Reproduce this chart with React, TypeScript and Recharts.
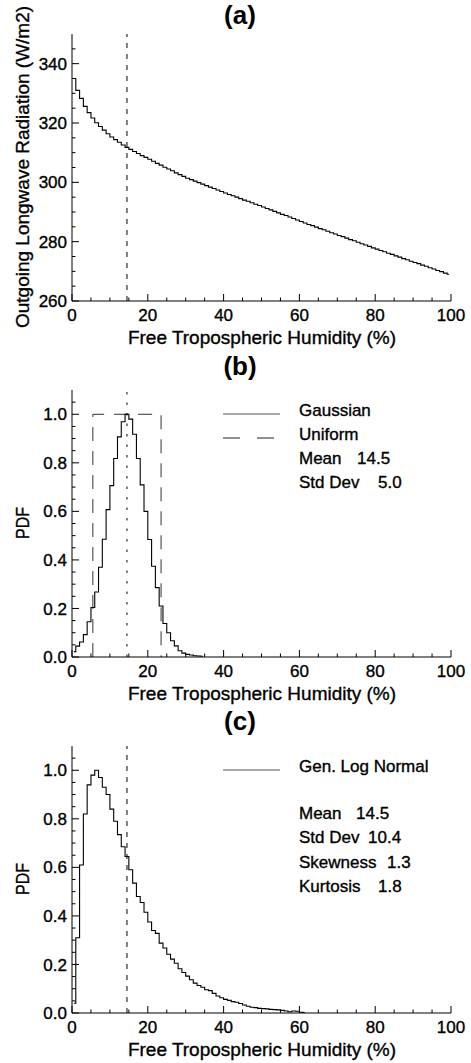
import React from 'react';
import { LineChart, Line, XAxis, YAxis, ReferenceLine } from 'recharts';

const FONT = '"Liberation Sans", Arial, Helvetica, sans-serif';

// humidity axis, %
const X_TICKS = [0, 5, 10, 15, 20, 25, 30, 35, 40, 45, 50, 55, 60, 65, 70, 75, 80, 85, 90, 95, 100];
const X_MAJOR = [0, 20, 40, 60, 80, 100];
const MEAN_FTH = 14.5;

// (a) OLR for each 1% humidity bin, W/m2
const OLR = [
  335.0, 331.0, 328.3, 325.6, 323.5, 321.7, 320.1, 318.8, 317.6, 316.4,
  315.3, 314.4, 313.5, 312.6, 311.8, 311.1, 310.4, 309.7, 309.0, 308.4,
  307.8, 307.1, 306.4, 305.8, 305.1, 304.5, 303.9, 303.2, 302.6, 302.0,
  301.4, 300.9, 300.4, 299.9, 299.4, 298.9, 298.4, 297.9, 297.4, 296.9,
  296.4, 295.9, 295.5, 295.0, 294.5, 294.0, 293.6, 293.1, 292.6, 292.2,
  291.7, 291.2, 290.7, 290.2, 289.7, 289.2, 288.8, 288.3, 287.8, 287.3,
  286.8, 286.3, 285.8, 285.4, 284.9, 284.4, 284.0, 283.5, 283.0, 282.6,
  282.1, 281.7, 281.2, 280.7, 280.3, 279.8, 279.3, 278.9, 278.4, 277.9,
  277.5, 277.0, 276.6, 276.1, 275.7, 275.2, 274.8, 274.3, 273.9, 273.4,
  273.0, 272.6, 272.1, 271.7, 271.2, 270.8, 270.3, 269.9, 269.4, 269.0,
];
const OLR_TICKS = [260, 265, 270, 275, 280, 285, 290, 295, 300, 305, 310, 315, 320, 325, 330, 335, 340, 345];
const OLR_MAJOR = [260, 280, 300, 320, 340];

// (b) gaussian pdf histogram
const GAUSS = [
  0.022, 0.045, 0.062, 0.092, 0.145, 0.204, 0.268, 0.37, 0.485, 0.607,
  0.706, 0.818, 0.907, 0.969, 1.0, 0.98, 0.918, 0.818, 0.709, 0.6,
  0.484, 0.374, 0.286, 0.21, 0.138, 0.1, 0.067, 0.046, 0.026, 0.016,
  0.011, 0.008, 0.005, 0.004, 0.003,
];
const UNIFORM_X = [5.5, 5.5, 23.5, 23.5];
const UNIFORM_Y = [0, 1, 1, 0];

// (c) generalised log normal histogram
const LOGN = [
  0.04, 0.31, 0.61, 0.82, 0.94, 0.98, 1.0, 0.97, 0.93, 0.9,
  0.84, 0.79, 0.735, 0.685, 0.645, 0.59, 0.535, 0.48, 0.455, 0.415,
  0.375, 0.34, 0.328, 0.288, 0.268, 0.242, 0.222, 0.205, 0.182, 0.167,
  0.152, 0.137, 0.123, 0.113, 0.106, 0.096, 0.092, 0.081, 0.07, 0.063,
  0.056, 0.052, 0.047, 0.044, 0.039, 0.033, 0.028, 0.024, 0.022, 0.019,
  0.018, 0.017, 0.015, 0.014, 0.013, 0.011, 0.008, 0.005, 0.008, 0.007,
  0.003, 0.001,
];

const PDF_TICKS = [0, 0.05, 0.1, 0.15, 0.2, 0.25, 0.3, 0.35, 0.4, 0.45, 0.5, 0.55, 0.6, 0.65, 0.7, 0.75, 0.8, 0.85, 0.9, 0.95, 1.0, 1.05];
const PDF_MAJOR = [0, 0.2, 0.4, 0.6, 0.8, 1.0];

// histogram bins are 1% wide, points sit at bin centres
const bins = (vals: number[]) => vals.map((v, i) => ({ x: i + 0.5, v }));
const olrData = bins(OLR);
const gaussData = bins(GAUSS);
const lognData = bins(LOGN);
const uniformData = UNIFORM_X.map((x, i) => ({ x, v: UNIFORM_Y[i] }));

const W = 471;
const H = 356;
const MARGIN = { top: 34, right: 20, bottom: 0, left: 0 };
const MAJOR_LEN = 7;
const MINOR_LEN = 3.5;
const TICK_FONT = 17;
// thickens the text a little, the original glyphs are heavier than plain Arial
const INK = { stroke: '#000', strokeWidth: 0.35 };

type Side = 'bottom' | 'top' | 'left' | 'right';

// inward IDL style ticks, labels only on the bottom/left majors
const makeTick = (side: Side, majors: number[], fmt?: (v: number) => string) => (p: any) => {
  const v = p.payload.value;
  const x = p.x;
  const y = p.y;
  const major = majors.includes(v);
  const len = major ? MAJOR_LEN : MINOR_LEN;
  let line;
  if (side === 'bottom') line = <line x1={x} y1={y} x2={x} y2={y - len} stroke="#000" />;
  else if (side === 'top') line = <line x1={x} y1={y} x2={x} y2={y + len} stroke="#000" />;
  else if (side === 'left') line = <line x1={x} y1={y} x2={x + len} y2={y} stroke="#000" />;
  else line = <line x1={x} y1={y} x2={x - len} y2={y} stroke="#000" />;
  let label = null;
  if (fmt && major) {
    if (side === 'bottom') {
      label = (
        <text x={x} y={y + 19.5} textAnchor="middle" fontSize={TICK_FONT} fontFamily={FONT} fill="#000" {...INK}>
          {fmt(v)}
        </text>
      );
    } else {
      label = (
        <text x={x - 5} y={y} dy="0.36em" textAnchor="end" fontSize={TICK_FONT} fontFamily={FONT} fill="#000" {...INK}>
          {fmt(v)}
        </text>
      );
    }
  }
  return (
    <g key={`${side}-${v}`}>
      {line}
      {label}
    </g>
  );
};

const axisLine = { stroke: '#000', strokeWidth: 1 };

type PanelProps = {
  title: string;
  titleY: number;
  yLabel: string;
  yLabelLen?: number;
  yDomain: [number, number];
  yTicks: number[];
  yMajors: number[];
  yFmt: (v: number) => string;
  meanDash: string;
  notes?: React.ReactNode;
  children: React.ReactNode;
};

function Panel(props: PanelProps) {
  const { title, titleY, yLabel, yLabelLen, yDomain, yTicks, yMajors, yFmt, meanDash, notes, children } = props;
  return (
    <div style={{ position: 'relative', width: W, height: H }}>
      <LineChart width={W} height={H} margin={MARGIN} style={{ fontFamily: FONT }}>
        <XAxis
          type="number"
          dataKey="x"
          domain={[0, 100]}
          allowDataOverflow
          ticks={X_TICKS}
          interval={0}
          height={55}
          tickSize={0}
          tickMargin={0}
          tickLine={false}
          axisLine={axisLine}
          tick={makeTick('bottom', X_MAJOR, (v) => String(v))}
        />
        <XAxis
          xAxisId="t"
          orientation="top"
          type="number"
          dataKey="x"
          domain={[0, 100]}
          allowDataOverflow
          ticks={X_TICKS}
          interval={0}
          height={0}
          tickSize={0}
          tickMargin={0}
          tickLine={false}
          axisLine={axisLine}
          tick={makeTick('top', X_MAJOR)}
        />
        <YAxis
          type="number"
          domain={yDomain}
          allowDataOverflow
          ticks={yTicks}
          interval={0}
          width={72}
          tickSize={0}
          tickMargin={0}
          tickLine={false}
          axisLine={axisLine}
          tick={makeTick('left', yMajors, yFmt)}
        />
        <YAxis
          yAxisId="r"
          orientation="right"
          type="number"
          domain={yDomain}
          allowDataOverflow
          ticks={yTicks}
          interval={0}
          width={0}
          tickSize={0}
          tickMargin={0}
          tickLine={false}
          axisLine={axisLine}
          tick={makeTick('right', yMajors)}
        />
        <ReferenceLine x={MEAN_FTH} stroke="#000" strokeWidth={1} strokeDasharray={meanDash} />
        {children}
      </LineChart>
      <svg
        width={W}
        height={H}
        style={{ position: 'absolute', left: 0, top: 0, pointerEvents: 'none', fontFamily: FONT, overflow: 'visible' }}
      >
        <text x={240} y={titleY} textAnchor="middle" fontSize={26} fontWeight="bold" fill="#000">
          {title}
        </text>
        <text x={262} y={344} textAnchor="middle" fontSize={19} fill="#000" {...INK}>
          Free Tropospheric Humidity (%)
        </text>
        <text
          transform="translate(29, 167) rotate(-90)"
          textAnchor="middle"
          fontSize={19}
          fill="#000"
          {...INK}
          textLength={yLabelLen}
          lengthAdjust={yLabelLen ? 'spacingAndGlyphs' : undefined}
        >
          {yLabel}
        </text>
        {notes}
      </svg>
    </div>
  );
}

const NOTE_FONT = 17;
const Note = ({ x, y, children }: { x: number; y: number; children: React.ReactNode }) => (
  <text x={x} y={y} fontSize={NOTE_FONT} fill="#000" {...INK}>
    {children}
  </text>
);

const pdfFmt = (v: number) => v.toFixed(1);

export default function App() {
  return (
    <div style={{ position: 'absolute', left: 0, top: 0, width: 471, height: 1063, background: '#fff', overflow: 'hidden' }}>
      <Panel
        title="(a)"
        titleY={24}
        yLabel="Outgoing Longwave Radiation (W/m2)"
        yDomain={[260, 350]}
        yTicks={OLR_TICKS}
        yMajors={OLR_MAJOR}
        yFmt={(v) => String(v)}
        meanDash="5 6"
      >
        <Line data={olrData} dataKey="v" type="step" stroke="#000" strokeWidth={1.1} dot={false} isAnimationActive={false} />
      </Panel>
      <Panel
        title="(b)"
        titleY={19}
        yLabel="PDF"
        yLabelLen={32}
        yDomain={[0, 1.1]}
        yTicks={PDF_TICKS}
        yMajors={PDF_MAJOR}
        yFmt={pdfFmt}
        meanDash="2.5 8"
        notes={
          <g>
            <line x1={223} x2={280} y1={58} y2={58} stroke="#555" />
            <Note x={299} y={60}>Gaussian</Note>
            <line x1={223} x2={275} y1={82} y2={82} stroke="#222" strokeDasharray="17 17" />
            <Note x={299} y={84}>Uniform</Note>
            <Note x={299} y={108}>Mean</Note>
            <Note x={357} y={108}>14.5</Note>
            <Note x={299} y={132}>Std Dev</Note>
            <Note x={378} y={132}>5.0</Note>
          </g>
        }
      >
        <Line data={uniformData} dataKey="v" type="linear" stroke="#333" strokeWidth={1} strokeDasharray="14 10" dot={false} isAnimationActive={false} />
        <Line data={gaussData} dataKey="v" type="step" stroke="#000" strokeWidth={1.1} dot={false} isAnimationActive={false} />
      </Panel>
      <Panel
        title="(c)"
        titleY={18}
        yLabel="PDF"
        yLabelLen={32}
        yDomain={[0, 1.1]}
        yTicks={PDF_TICKS}
        yMajors={PDF_MAJOR}
        yFmt={pdfFmt}
        meanDash="5 6"
        notes={
          <g>
            <line x1={223} x2={280} y1={58} y2={58} stroke="#555" />
            <Note x={299} y={60}>Gen. Log Normal</Note>
            <Note x={299} y={107}>Mean</Note>
            <Note x={356} y={107}>14.5</Note>
            <Note x={299} y={131}>Std Dev</Note>
            <Note x={368} y={131}>10.4</Note>
            <Note x={299} y={156}>Skewness</Note>
            <Note x={387} y={156}>1.3</Note>
            <Note x={299} y={180}>Kurtosis</Note>
            <Note x={378} y={180}>1.8</Note>
          </g>
        }
      >
        <Line data={lognData} dataKey="v" type="step" stroke="#000" strokeWidth={1.1} dot={false} isAnimationActive={false} />
      </Panel>
    </div>
  );
}
